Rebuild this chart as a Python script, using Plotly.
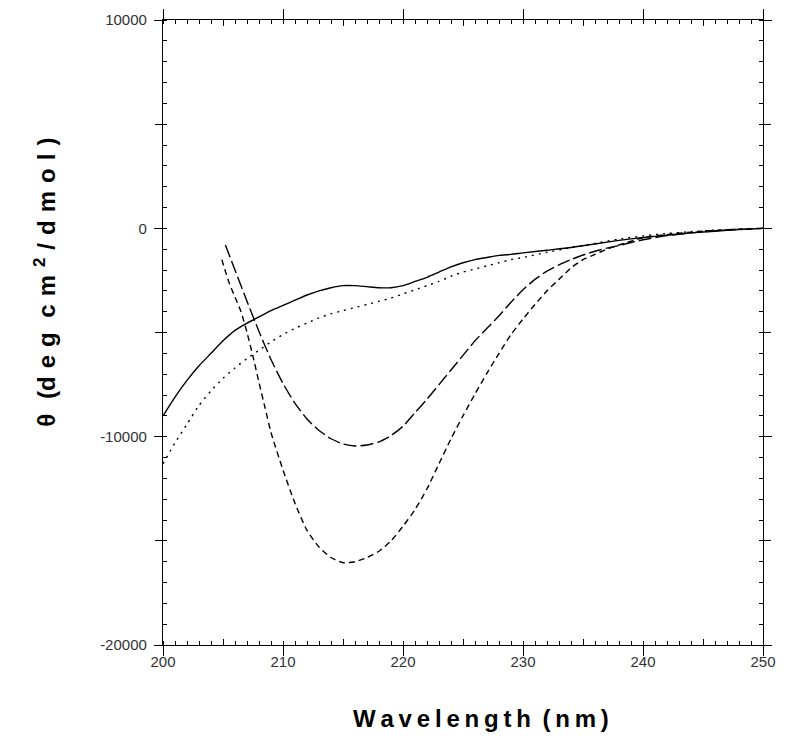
import plotly.graph_objects as go

# CD spectra, mean residue ellipticity in deg cm2/dmol
wl_solid = [200, 201, 202, 203, 204, 205, 206, 207, 208, 209, 210, 211, 212, 213, 214, 215,
            216, 217, 218, 219, 220, 221, 222, 223, 224, 225, 226, 227, 228, 229, 230,
            232, 234, 236, 238, 240, 242, 244, 246, 248, 250]
theta_solid = [-9000, -8100, -7300, -6600, -6000, -5400, -4900, -4550, -4250, -3950, -3700,
               -3450, -3200, -3000, -2850, -2750, -2750, -2800, -2850, -2850, -2750, -2550,
               -2350, -2100, -1850, -1650, -1500, -1400, -1300, -1250, -1180,
               -1050, -920, -750, -580, -440, -330, -220, -140, -60, 0]

wl_dot = [200, 201, 202, 203, 204, 205, 206, 207, 208, 209, 210, 211, 212, 213, 214, 215,
          216, 217, 218, 219, 220, 221, 222, 223, 224, 225, 226, 227, 228, 229, 230,
          232, 234, 236, 238, 240, 242, 244, 246, 248, 250]
theta_dot = [-11300, -10300, -9400, -8500, -7800, -7200, -6700, -6250, -5850, -5450, -5100,
             -4800, -4550, -4300, -4100, -3950, -3800, -3650, -3500, -3350, -3150, -2950,
             -2750, -2550, -2300, -2100, -1950, -1800, -1650, -1500, -1400,
             -1150, -930, -720, -520, -360, -250, -160, -90, -40, 0]

wl_long = [205.2, 206, 207, 208, 209, 210, 211, 212, 213, 214, 215, 216,
           217, 218, 219, 220, 221, 222, 223, 224, 225, 226, 227, 228, 229, 230, 231, 232,
           233, 234, 235, 236, 237, 238, 240, 242, 244, 246, 248, 250]
theta_long = [-800, -2000, -3500, -4950, -6300, -7450, -8400, -9150, -9700, -10100, -10350,
              -10450, -10400, -10250, -9950, -9500, -8850, -8200, -7500, -6800, -6100,
              -5400, -4800, -4200, -3550, -2950, -2450, -2050, -1750, -1500, -1280, -1100,
              -950, -820, -550, -350, -220, -120, -50, 0]

wl_short = [204.9, 205.5, 206, 206.5, 207, 207.5, 208, 208.5, 209, 210, 211, 212, 213, 214,
            215, 216, 217, 218, 219, 220, 221, 222, 223, 224, 225, 226, 227, 228, 229, 230,
            231, 232, 233, 234, 235, 236, 237, 238, 240, 242, 244, 246, 248, 250]
theta_short = [-1500, -2600, -3300, -4000, -5000, -6150, -7400, -8600, -9800, -11600, -13200,
               -14500, -15300, -15800, -16050, -16000, -15800, -15500, -15000, -14300,
               -13500, -12500, -11300, -10100, -9000, -7950, -6950, -6000, -5100, -4350,
               -3650, -3000, -2450, -1900, -1500, -1250, -1000, -800, -450, -300, -180,
               -100, -40, 0]

x_labels = [200, 210, 220, 230, 240, 250]
x_mid_ticks = [205, 215, 225, 235, 245]
y_labels = [-20000, -10000, 0, 10000]
y_mid_ticks = [-15000, -5000, 5000]

fig = go.Figure()

styles = [
    (wl_solid, theta_solid, "solid"),
    (wl_dot, theta_dot, "2px,5px"),
    (wl_long, theta_long, "13px,4px"),
    (wl_short, theta_short, "6px,4px"),
]
for xs, ys, dash in styles:
    fig.add_trace(go.Scatter(
        x=xs, y=ys, mode="lines",
        line=dict(color="black", width=1.4, dash=dash, shape="spline", smoothing=0.6),
        showlegend=False, hoverinfo="skip"
    ))

# invisible trace so the overlay axes (medium/long ticks) get drawn
fig.add_trace(go.Scatter(x=[200], y=[0], xaxis="x2", yaxis="y2", mode="markers",
                         marker=dict(opacity=0), showlegend=False, hoverinfo="skip"))

tick_font = dict(family="Liberation Sans, Arial, sans-serif", size=15, color="#333333")

fig.update_layout(
    xaxis=dict(
        range=[200, 250],
        tickmode="array", tickvals=x_labels, ticktext=[str(v) for v in x_labels],
        ticks="outside", ticklen=3, tickwidth=1.2, tickcolor="black",
        minor=dict(ticks="inside", dtick=1, ticklen=4, tickwidth=1, tickcolor="black"),
        showline=True, linecolor="black", linewidth=1.3, mirror="ticks",
        showgrid=False, zeroline=False, tickfont=tick_font, automargin=False
    ),
    yaxis=dict(
        range=[-20000, 10000],
        tickmode="array", tickvals=y_labels, ticktext=[str(v) for v in y_labels],
        ticks="outside", ticklen=8, tickwidth=1.2, tickcolor="black",
        minor=dict(ticks="inside", dtick=1000, ticklen=4, tickwidth=1, tickcolor="black"),
        showline=True, linecolor="black", linewidth=1.3, mirror="ticks",
        showgrid=False, zeroline=False, tickfont=tick_font, ticklabelstandoff=4,
        automargin=False
    ),
    xaxis2=dict(
        range=[200, 250], overlaying="x", anchor="y", side="bottom",
        tickmode="array", tickvals=x_labels,
        ticks="outside", ticklen=10, tickwidth=1.2, tickcolor="black",
        minor=dict(ticks="inside", tickvals=x_mid_ticks, ticklen=6, tickwidth=1.2,
                   tickcolor="black"),
        showticklabels=False, showgrid=False, zeroline=False, showline=False,
        mirror="ticks", automargin=False
    ),
    yaxis2=dict(
        range=[-20000, 10000], overlaying="y", anchor="x", side="left",
        tickmode="array", tickvals=y_mid_ticks,
        ticks="outside", ticklen=7, tickwidth=1.2, tickcolor="black",
        showticklabels=False, showgrid=False, zeroline=False, showline=False,
        mirror="ticks", automargin=False
    ),
)

ts = "\u2009"
xlab = ts.join(list("Wavelength")) + " " + ts + "(" + ts + "n" + ts + "m" + ts + ")"
ys_ = "\u2004"
ylab = ("θ" + ys_ + " (" + ys_.join(list("deg")) + ys_ + " " + "c" + ys_ + "m"
        + ys_ + "<sup>2</sup>" + ys_ + "/" + ys_ + ys_.join(list("dmol")) + ys_ + ")")

title_font = dict(family="Liberation Sans, Arial, sans-serif", size=24, color="black")
fig.add_annotation(
    text="<b>" + xlab + "</b>", xref="paper", yref="paper", x=0.53, y=-0.117,
    xanchor="center", yanchor="middle", showarrow=False, font=title_font
)
fig.add_annotation(
    text="<b>" + ylab + "</b>", xref="paper", yref="paper", x=-0.197, y=0.581,
    xanchor="center", yanchor="middle", showarrow=False, font=title_font, textangle=-90
)

fig.update_layout(
    width=794, height=736,
    margin=dict(l=155, r=39, t=12, b=99, autoexpand=False),
    plot_bgcolor="white", paper_bgcolor="white",
    showlegend=False
)

fig.write_html("out.html")
